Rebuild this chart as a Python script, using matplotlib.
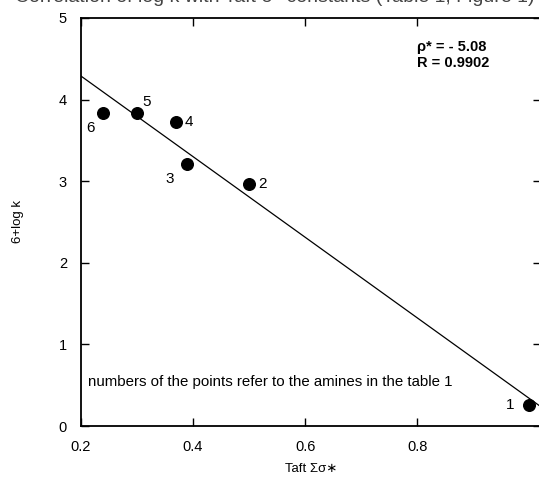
import numpy as np
import matplotlib.pyplot as plt

plt.rcParams['font.family'] = ['Liberation Sans', 'DejaVu Sans']

# amine data (Taft sigma* sum vs 6+log k)
amine_ids = ['1', '2', '3', '4', '5', '6']
sigma_star = [1.00, 0.50, 0.39, 0.37, 0.30, 0.24]
log_k = [0.26, 2.97, 3.21, 3.72, 3.83, 3.84]
label_offsets = [(-14, 0), (10, 0), (-13, -11), (9, 0), (7, 8), (-9, -11)]

x_ticks = [0.2, 0.4, 0.6, 0.8]
y_ticks = [0, 1, 2, 3, 4, 5]

fig = plt.figure(figsize=(5.39, 4.79), dpi=100)
ax = fig.add_axes([0.150, 0.1106, 0.853, 0.852])

# regression line
slope, intercept = np.polyfit(sigma_star, log_k, 1)
xs = np.array([0.2, 1.02])
ax.plot(xs, intercept + slope * xs, color='black', lw=0.9)

ax.scatter(sigma_star, log_k, s=70, color='black', zorder=3)
for lab, x, y, off in zip(amine_ids, sigma_star, log_k, label_offsets):
    ax.annotate(lab, (x, y), xytext=off, textcoords='offset points',
                ha='center', va='center', fontsize=11)

ax.text(0.732, 0.909, 'ρ* = - 5.08\nR = 0.9902', transform=ax.transAxes,
        fontsize=10.5, fontweight='bold', va='center', linespacing=1.25)
ax.text(0.015, 0.107, 'numbers of the points refer to the amines in the table 1',
        transform=ax.transAxes, fontsize=10.8, va='center')

ax.set_xlim(0.2, 1.02)
ax.set_ylim(0, 5)
ax.set_xticks(x_ticks)
ax.set_xticklabels(['0.2', '0.4', '0.6', '0.8'])
ax.set_yticks(y_ticks)
ax.tick_params(direction='in', top=True, right=True, length=6, width=1,
               labelsize=10.5, pad=10)
ax.tick_params(axis='y', pad=10)
for sp in ax.spines.values():
    sp.set_linewidth(1.3)

ax.set_xlabel('Taft Σσ∗', fontsize=9.5, va='center')
ax.xaxis.set_label_coords(0.5, -0.105)
ax.set_ylabel('6+log k', fontsize=9.5, va='center')
ax.yaxis.set_label_coords(-0.137, 0.5)

fig.text(0.028, 0.996, 'Correlation of log k with Taft σ* constants (Table 1, Figure 1)',
         fontsize=14, color='#444444', va='baseline')

fig.savefig('out.png', dpi=100)
